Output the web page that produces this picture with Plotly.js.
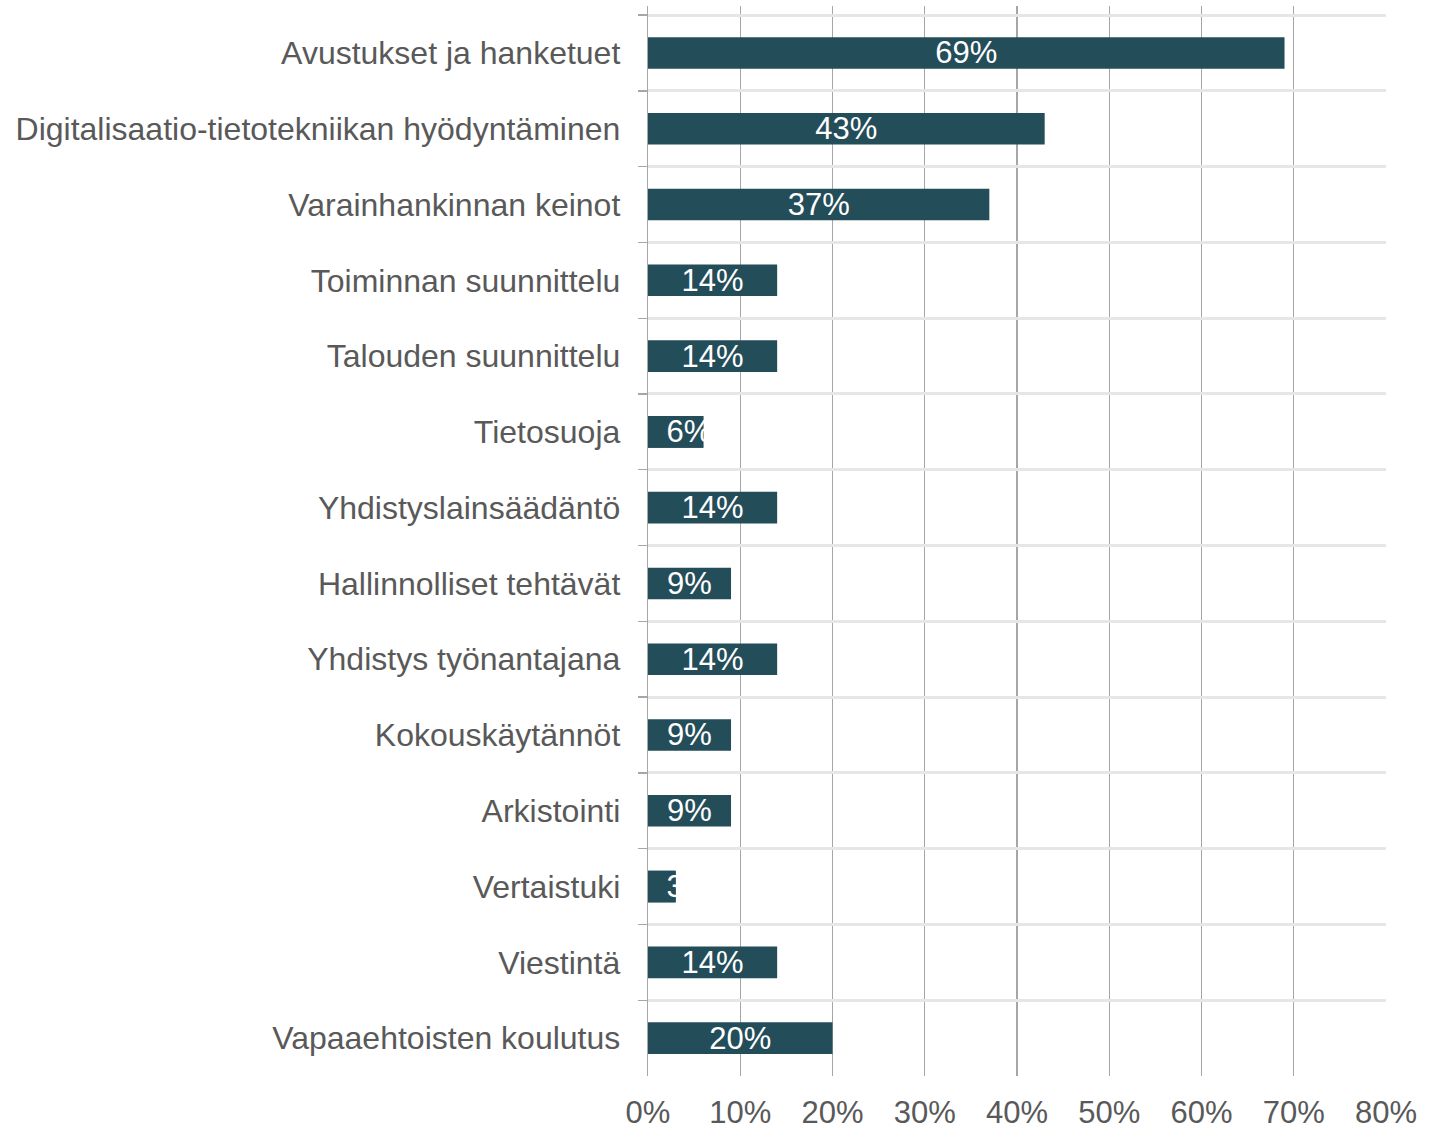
<!DOCTYPE html>
<html>
<head>
<meta charset="utf-8">
<script src="https://cdn.plot.ly/plotly-3.0.1.min.js"></script>
<style>
  html, body { margin: 0; padding: 0; background: #ffffff; }
  #chart { width: 1447px; height: 1128px; }
</style>
</head>
<body>
<div id="chart"></div>
<script>
// Categories, top to bottom
const categories = [
  "Avustukset ja hanketuet",
  "Digitalisaatio-tietotekniikan hyödyntäminen",
  "Varainhankinnan keinot",
  "Toiminnan suunnittelu",
  "Talouden suunnittelu",
  "Tietosuoja",
  "Yhdistyslainsäädäntö",
  "Hallinnolliset tehtävät",
  "Yhdistys työnantajana",
  "Kokouskäytännöt",
  "Arkistointi",
  "Vertaistuki",
  "Viestintä",
  "Vapaaehtoisten koulutus"
];
// Share of respondents (%)
const values = [69, 43, 37, 14, 14, 6, 14, 9, 14, 9, 9, 3, 14, 20];
const xTickValues = [0, 10, 20, 30, 40, 50, 60, 70, 80];
const xTickLabels = ["0%", "10%", "20%", "30%", "40%", "50%", "60%", "70%", "80%"];

const barColor = "#244D5A";
const textGrey = "#595959";
const font = "Liberation Sans, Arial, sans-serif";
const fontSize = 31;

const labelFits = v => v >= 8;
const wideText = values.map(v => labelFits(v) ? Math.round(v) + "%" : "");
const narrowVals = values.map(v => labelFits(v) ? null : v);
const narrowText = values.map(v => labelFits(v) ? "" : Math.round(v) + "%");

const traceMain = {
  type: "bar",
  orientation: "h",
  y: categories,
  x: values,
  text: wideText,
  textposition: "inside",
  insidetextanchor: "middle",
  constraintext: "none",
  textangle: 0,
  insidetextfont: { family: font, size: fontSize, color: "#ffffff" },
  marker: { color: barColor, line: { width: 0 } },
  hoverinfo: "x+y"
};
const traceNarrow = {
  type: "bar",
  orientation: "h",
  y: categories,
  x: narrowVals,
  text: narrowText,
  texttemplate: "\u2002%{text}",
  textposition: "inside",
  insidetextanchor: "start",
  constraintext: "none",
  textangle: 0,
  insidetextfont: { family: font, size: fontSize, color: "#ffffff" },
  marker: { color: barColor, line: { width: 0 } },
  hoverinfo: "x+y"
};

const n = categories.length;
const layout = {
  width: 1447,
  height: 1128,
  margin: { l: 648, r: 61, t: 6, b: 52, pad: 0 },
  paper_bgcolor: "#ffffff",
  plot_bgcolor: "#ffffff",
  showlegend: false,
  barmode: "overlay",
  bargap: 0.583,
  font: { family: font, color: textGrey },
  xaxis: {
    range: [0, 80],
    tickvals: xTickValues,
    ticktext: xTickLabels,
    showgrid: true,
    gridcolor: "#A6A6A6",
    gridwidth: 1.3,
    zeroline: false,
    showline: false,
    ticks: "",
    ticklabelstandoff: 15,
    tickfont: { family: font, size: fontSize, color: textGrey },
    fixedrange: true
  },
  yaxis: {
    type: "category",
    categoryorder: "array",
    categoryarray: categories,
    range: [n - 0.5, -0.62],
    tickson: "boundaries",
    ticks: "outside",
    ticklen: 9,
    tickwidth: 1.3,
    tickcolor: "#A6A6A6",
    showgrid: true,
    gridcolor: "#E6E6E6",
    gridwidth: 3,
    showline: true,
    linecolor: "#A6A6A6",
    linewidth: 1.3,
    zeroline: false,
    ticklabelstandoff: 20,
    tickfont: { family: font, size: 32, color: textGrey },
    fixedrange: true
  },
  shapes: [
    {
      type: "line", xref: "x", yref: "y",
      x0: 0, x1: 80, y0: -0.5, y1: -0.5,
      line: { color: "#A6A6A6", width: 2 },
      layer: "below"
    }
  ]
};

Plotly.newPlot("chart", [traceMain, traceNarrow], layout, { displayModeBar: false, staticPlot: true });
</script>
</body>
</html>
